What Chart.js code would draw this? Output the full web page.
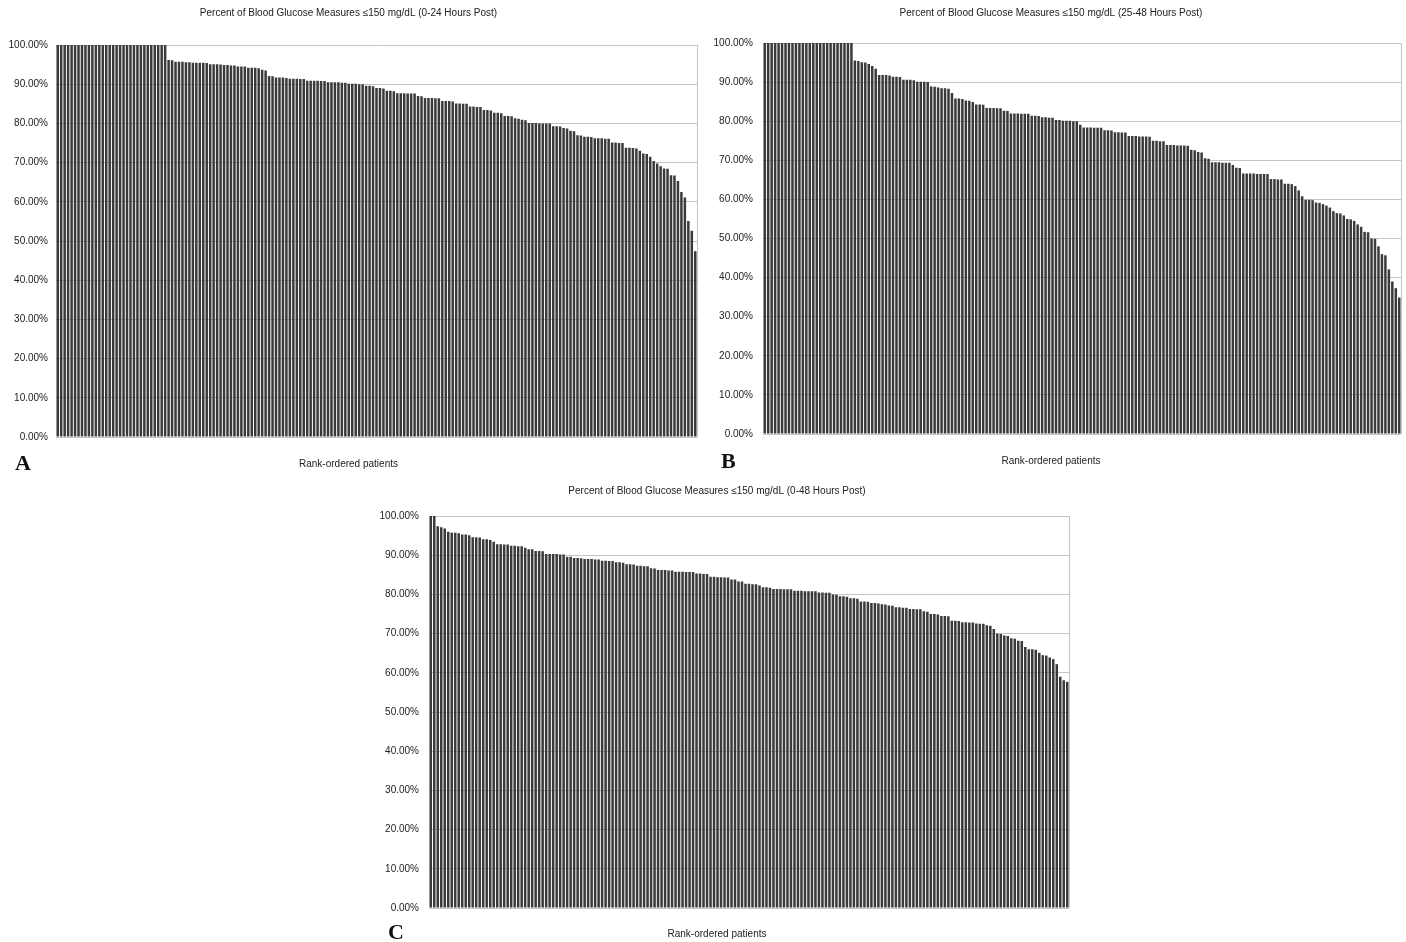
<!DOCTYPE html>
<html><head><meta charset="utf-8">
<script src="https://cdn.jsdelivr.net/npm/chart.js@4.4.0/dist/chart.umd.min.js"></script>
<style>
html,body{margin:0;padding:0;background:#fff;}
#wrap{position:relative;width:1406px;height:942px;overflow:hidden;background:#fff;}
.panel{position:absolute;}
.panel canvas{display:block;}
.letter{position:absolute;font-family:"Liberation Serif","Times New Roman",serif;font-weight:bold;font-size:22px;line-height:1;color:#111;}
</style></head><body>
<div id="wrap">
  <div class="panel" style="left:0px;top:0px;width:700px;height:474px"><canvas id="cA" width="700" height="474" style="width:700px;height:474px"></canvas></div>
  <div class="panel" style="left:701px;top:0px;width:703px;height:471px"><canvas id="cB" width="703" height="471" style="width:703px;height:471px"></canvas></div>
  <div class="panel" style="left:365px;top:478px;width:707px;height:462px"><canvas id="cC" width="707" height="462" style="width:707px;height:462px"></canvas></div>
  <div class="letter" style="left:15px;top:452px">A</div>
  <div class="letter" style="left:721px;top:450px">B</div>
  <div class="letter" style="left:388px;top:921px">C</div>
</div>
<script>
// ---- Data (rank-ordered patients) ----
const titleA = "Percent of Blood Glucose Measures \u2264150 mg/dL (0-24 Hours Post)";
const titleB = "Percent of Blood Glucose Measures \u2264150 mg/dL (25-48 Hours Post)";
const titleC = "Percent of Blood Glucose Measures \u2264150 mg/dL (0-48 Hours Post)";
const xAxisTitle = "Rank-ordered patients";
const yTicks = [0, 10, 20, 30, 40, 50, 60, 70, 80, 90, 100];

const valuesA = [
100,100,100,100,100,100,100,100,100,100,
100,100,100,100,100,100,100,100,100,100,
100,100,100,100,100,100,100,100,100,100,
100,100,
96.2,96.1,
95.7,95.7,95.7,95.6,95.6,
95.5,95.5,95.5,95.5,95.4,
95.1,95.1,95.1,95.0,
94.9,94.9,94.8,94.8,
94.5,94.5,94.5,
94.2,94.2,94.2,94.1,
93.7,93.5,
92.1,92.0,
91.7,91.7,91.7,91.6,
91.4,91.4,91.4,91.3,91.3,
90.9,90.9,90.9,90.9,90.8,90.8,
90.5,90.5,90.5,90.5,90.4,90.4,
90.1,90.1,90.1,90.0,90.0,
89.6,89.6,89.5,
89.0,89.0,88.9,
88.3,88.3,88.2,
87.7,87.7,87.7,87.6,87.6,87.6,
87.0,86.9,
86.5,86.5,86.5,86.4,86.4,
85.7,85.7,85.7,85.6,
85.1,85.1,85.0,85.0,
84.3,84.3,84.2,84.2,
83.4,83.4,83.3,
82.7,82.7,82.6,
81.9,81.9,81.8,
81.3,81.2,
80.9,80.8,
80.1,80.1,80.1,80.0,80.0,80.0,80.0,
79.3,79.3,79.2,
78.8,78.7,
78.1,78.0,
77.0,76.9,
76.6,76.6,76.5,
76.2,76.2,76.2,76.1,76.1,
75.1,75.1,75.0,75.0,
73.8,73.8,73.7,73.6,
73.0,
72.3,72.2,
71.5,
70.4,
69.8,
69.1,
68.5,68.4,
66.8,66.7,
65.3,
62.5,
61.1,
55.1,
52.6,
47.4
];

const valuesB = [
100,100,100,100,100,100,100,100,100,100,
100,100,100,100,100,100,100,100,100,100,
100,100,100,100,100,100,
95.5,95.4,
95.1,95.0,
94.6,
94.1,
93.4,
91.8,91.8,91.8,91.7,
91.4,91.4,91.3,
90.6,90.6,90.6,90.5,
90.1,90.1,90.1,90.0,
88.9,88.8,
88.6,
88.4,88.4,88.3,
87.2,
85.8,85.8,85.7,
85.3,85.2,
84.9,
84.3,84.3,84.2,
83.4,83.4,83.4,83.3,83.3,
82.7,82.6,
82.0,82.0,82.0,81.9,81.9,81.9,
81.4,81.4,81.3,
81.0,81.0,80.9,80.9,
80.3,80.3,
80.1,80.1,80.1,80.0,80.0,
79.1,
78.4,78.4,78.4,78.3,78.3,78.3,
77.7,77.7,77.6,
77.2,77.2,77.1,77.1,
76.2,76.2,76.2,76.1,76.1,76.1,76.0,
75.0,75.0,74.9,74.9,
73.9,73.9,73.9,73.8,73.8,73.8,73.7,
72.7,72.6,
72.1,72.0,
70.5,70.4,
69.5,69.5,69.5,69.4,69.4,69.4,
68.8,
68.1,68.0,
66.6,66.6,66.6,66.6,66.5,66.5,66.5,66.5,
65.2,65.2,65.1,65.1,
64.0,64.0,63.9,
63.4,
62.3,
60.8,
59.9,59.9,59.8,
59.2,59.1,
58.8,
58.4,
57.9,
57.0,
56.5,56.4,
55.9,
55.0,54.9,
54.5,
53.6,
53.0,
51.7,51.6,
50.0,49.9,
48.0,
46.0,
45.7,
42.1,
39.0,
37.3,
34.9
];

const valuesC = [
100,100,
97.4,97.1,96.8,96.0,
95.7,95.7,95.6,
95.3,95.3,
95.1,
94.6,94.6,94.5,
94.1,94.1,
93.9,
93.4,
92.8,92.8,92.7,92.7,
92.4,92.4,92.3,92.3,
91.9,
91.5,91.5,
91.1,91.1,91.0,
90.3,90.3,90.3,90.3,90.2,90.2,
89.6,89.6,
89.3,89.3,89.2,
89.0,89.0,89.0,88.9,88.9,
88.6,88.6,88.5,88.5,
88.2,88.2,88.1,
87.7,87.7,87.6,
87.3,87.3,87.2,87.2,
86.7,86.6,
86.2,86.2,86.2,86.1,86.1,
85.8,85.8,85.8,85.7,85.7,85.7,
85.3,85.3,85.2,85.2,
84.5,84.5,84.4,84.4,
84.3,84.3,
83.8,83.8,
83.3,83.3,
82.7,82.7,82.6,82.6,
82.3,
81.8,81.8,81.7,
81.4,81.4,81.4,81.3,81.3,81.3,
80.9,80.9,80.9,80.8,80.8,80.8,80.8,
80.5,80.5,80.4,80.4,
80.0,79.9,
79.5,79.5,79.4,
79.0,79.0,78.9,
78.2,78.2,78.1,
77.8,77.8,77.7,
77.5,77.4,
77.2,77.1,
76.7,76.7,76.6,76.6,
76.3,76.3,76.2,76.2,
75.7,75.6,
75.0,75.0,74.9,
74.5,74.5,74.4,
73.3,73.3,73.2,
72.9,72.9,72.8,72.8,
72.6,72.5,72.5,
72.1,72.0,
71.2,
70.0,69.9,
69.5,69.4,
68.8,68.7,
68.2,68.1,
66.6,
66.0,66.0,65.9,
65.1,
64.5,64.4,
63.9,
63.5,
62.2,
59.0,
58.1,
57.7
];

// ---- Rendering ----
const FONT = "'Liberation Sans', Arial, sans-serif";
const TEXT = '#222222';
const GRID = '#c4c4c4';

const rightBorder = {
  id: 'rightBorder',
  afterDraw(chart) {
    const a = chart.chartArea, ctx = chart.ctx;
    ctx.save();
    ctx.strokeStyle = GRID;
    ctx.lineWidth = 1;
    ctx.beginPath();
    ctx.moveTo(Math.round(a.right) + 0.5, a.top);
    ctx.lineTo(Math.round(a.right) + 0.5, a.bottom);
    ctx.stroke();
    ctx.restore();
  }
};

function makePanel(canvasId, title, values, g) {
  const ranks = values.map((_, i) => i + 1);
  return new Chart(document.getElementById(canvasId), {
    type: 'bar',
    data: {
      labels: ranks,
      datasets: [{
        data: values,
        backgroundColor: '#3a3a3a',
        borderWidth: 0,
        barPercentage: 0.72,
        categoryPercentage: 1.0
      }]
    },
    options: {
      responsive: false,
      animation: false,
      devicePixelRatio: 1,
      layout: { padding: { left: 0, right: 3, top: 0, bottom: 0 } },
      plugins: {
        legend: { display: false },
        tooltip: { enabled: false },
        title: {
          display: true, text: title, color: TEXT,
          font: { family: FONT, size: 10, weight: 'normal', lineHeight: 1.2 },
          padding: { top: g.titleTop, bottom: g.titleBottom }
        },
        subtitle: {
          display: true, position: 'bottom', text: xAxisTitle, color: TEXT,
          font: { family: FONT, size: 10, weight: 'normal', lineHeight: 1.2 },
          padding: { top: g.subTop, bottom: g.subBottom }
        }
      },
      scales: {
        x: { display: false, grid: { display: false } },
        y: {
          min: 0, max: 100,
          afterBuildTicks(scale) { scale.ticks = yTicks.map(v => ({ value: v })); },
          afterFit(scale) { scale.width = g.yWidth; },
          border: { display: false },
          grid: { color: GRID, lineWidth: 1, drawTicks: false },
          ticks: {
            padding: g.tickPad, color: TEXT,
            font: { family: FONT, size: 10 },
            callback: v => Number(v).toFixed(2) + '%'
          }
        }
      }
    },
    plugins: [rightBorder]
  });
}

makePanel('cA', titleA, valuesA, { yWidth: 56, tickPad: 8, titleTop: 7, titleBottom: 26, subTop: 21, subBottom: 4 });
makePanel('cB', titleB, valuesB, { yWidth: 62, tickPad: 10, titleTop: 7, titleBottom: 24, subTop: 21, subBottom: 4 });
makePanel('cC', titleC, valuesC, { yWidth: 64, tickPad: 10, titleTop: 7, titleBottom: 19, subTop: 20, subBottom: 0 });
</script>
</body></html>
